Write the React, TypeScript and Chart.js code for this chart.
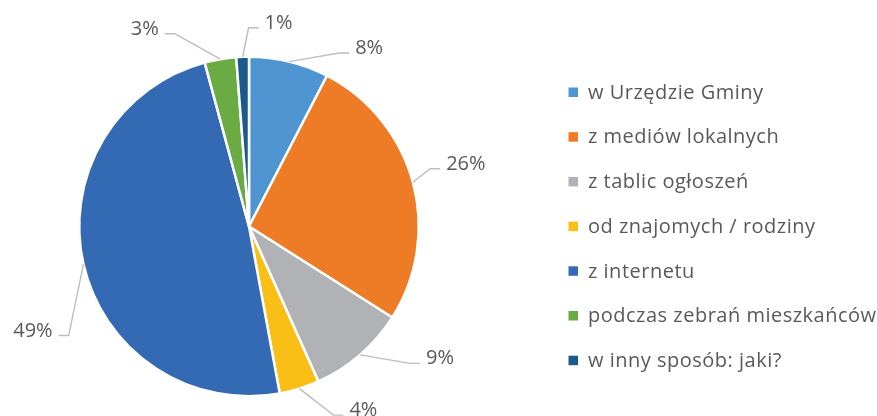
import React, { useEffect, useRef } from "react";
import { Chart, registerables } from "chart.js";

Chart.register(...registerables);

const categories = [
  "w Urzędzie Gminy",
  "z mediów lokalnych",
  "z tablic ogłoszeń",
  "od znajomych / rodziny",
  "z internetu",
  "podczas zebrań mieszkańców",
  "w inny sposób: jaki?",
];
const values = [7.6, 26.4, 9.3, 3.8, 48.7, 3.0, 1.2];
const colors = ["#4E95D1", "#EE7B25", "#B1B2B5", "#F9BF16", "#336AB3", "#6AAB43", "#1C5A8E"];
// offset of each percentage label's centre from the point where its leader line leaves the slice
const labelOffsets: [number, number][] = [
  [80, -15],
  [53, -20],
  [80, 2],
  [64, 20],
  [-50.5, 65],
  [-75.5, -32],
  [36, -35.6],
];

const FONT = "'Open Sans', 'DejaVu Sans', sans-serif";
const TEXT = "#595959";

const labelPlugin = {
  id: "excelLabels",
  afterDatasetsDraw(chart: any) {
    const ctx = chart.ctx;
    const meta = chart.getDatasetMeta(0);
    const data = chart.data.datasets[0].data as number[];
    const total = data.reduce((a, b) => a + b, 0);
    ctx.save();
    ctx.font = `20px ${FONT}`;
    meta.data.forEach((arc: any, i: number) => {
      const { x, y, startAngle, endAngle, outerRadius } = arc.getProps(
        ["x", "y", "startAngle", "endAngle", "outerRadius"],
        true
      );
      const mid = (startAngle + endAngle) / 2;
      const ax = x + Math.cos(mid) * outerRadius;
      const ay = y + Math.sin(mid) * outerRadius;
      const [dx, dy] = labelOffsets[i];
      const cx = ax + dx;
      const cy = ay + dy;
      const text = Math.round((data[i] / total) * 100) + "%";
      const w = ctx.measureText(text).width;
      const baseline = cy + 7.5;
      const lineY = baseline - 1;
      let endX: number, elbowX: number;
      if (dx > 0) {
        endX = cx - w / 2 - 6;
        elbowX = endX - 10;
      } else {
        endX = cx + w / 2 + 6;
        elbowX = endX + 10;
      }
      ctx.strokeStyle = "#BDBDBD";
      ctx.lineWidth = 1.4;
      ctx.beginPath();
      ctx.moveTo(ax, ay);
      ctx.lineTo(elbowX, lineY);
      ctx.lineTo(endX, lineY);
      ctx.stroke();
      ctx.fillStyle = TEXT;
      ctx.textAlign = "center";
      ctx.textBaseline = "alphabetic";
      ctx.fillText(text, cx, baseline);
    });
    ctx.restore();
  },
};

const legendPlugin = {
  id: "excelLegend",
  afterDraw(chart: any) {
    const ctx = chart.ctx;
    const labels = chart.data.labels as string[];
    const bg = chart.data.datasets[0].backgroundColor as string[];
    ctx.save();
    ctx.font = `20px ${FONT}`;
    (ctx as any).letterSpacing = "0.5px";
    ctx.textBaseline = "middle";
    ctx.textAlign = "left";
    labels.forEach((lab, i) => {
      const yc = 92 + i * 44.7;
      ctx.fillStyle = bg[i];
      ctx.fillRect(568.5, yc - 4.5, 9.5, 9.5);
      ctx.fillStyle = TEXT;
      ctx.fillText(lab, 588, yc + 1);
    });
    ctx.restore();
  },
};

export default function App() {
  const ref = useRef<HTMLCanvasElement | null>(null);
  useEffect(() => {
    document.body.style.margin = "0";
    if (!ref.current) return;
    const chart = new Chart(ref.current, {
      type: "pie",
      data: {
        labels: categories,
        datasets: [
          {
            data: values,
            backgroundColor: colors,
            borderColor: "#FFFFFF",
            borderWidth: 2.5,
          },
        ],
      },
      options: {
        animation: false,
        responsive: false,
        events: [],
        layout: { padding: { left: 78, right: 457, top: 55.5, bottom: 18.5 } },
        plugins: {
          legend: { display: false },
          tooltip: { enabled: false },
        },
      },
      plugins: [labelPlugin, legendPlugin],
    });
    return () => chart.destroy();
  }, []);
  return (
    <div style={{ width: 877, height: 416, background: "#fff" }}>
      <canvas ref={ref} width={877} height={416} />
    </div>
  );
}
